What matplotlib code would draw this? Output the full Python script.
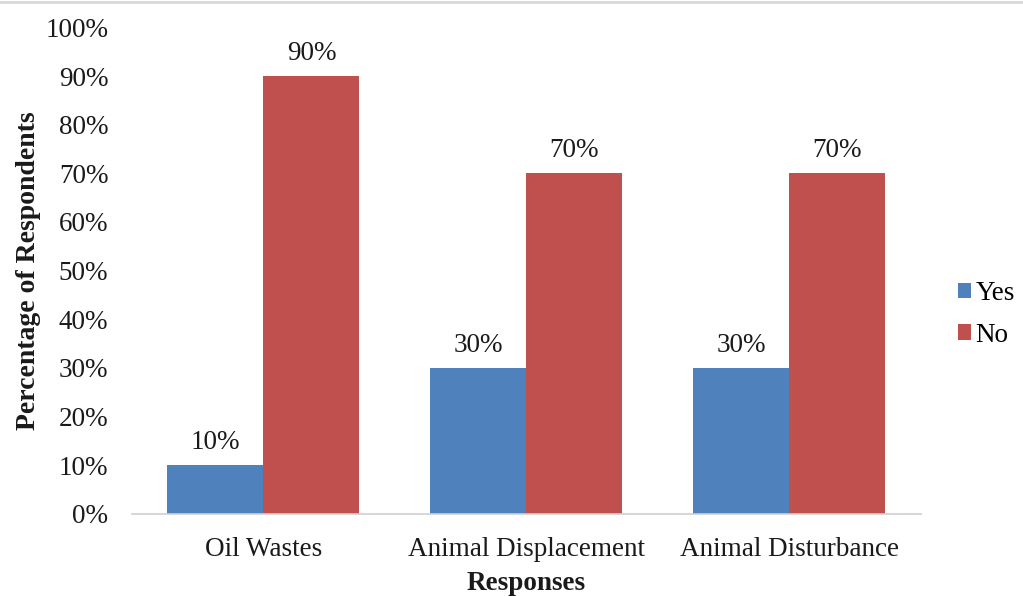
import numpy as np
import matplotlib
matplotlib.use("Agg")
import matplotlib.pyplot as plt
from matplotlib.lines import Line2D

# Survey responses (percent of respondents)
categories = ["Oil Wastes", "Animal Displacement", "Animal Disturbance"]
yes_values = [10, 30, 30]
no_values = [90, 70, 70]
y_ticks = [0, 10, 20, 30, 40, 50, 60, 70, 80, 90, 100]

plt.rcParams["font.family"] = ["Liberation Serif", "DejaVu Serif"]

BLUE = "#4F81BD"
RED = "#C0504D"
TEXT = "#1a1a1a"
FS = 19.5

fig = plt.figure(figsize=(10.23, 5.96), dpi=100)
ax = fig.add_axes([0.129, 0.138, 0.771, 0.816])

x = np.arange(len(categories))
width = 0.365
bars_yes = ax.bar(x - width / 2, yes_values, width, color=BLUE, label="Yes")
bars_no = ax.bar(x + width / 2, no_values, width, color=RED, label="No")

# value labels above each bar
for bars, vals in [(bars_yes, yes_values), (bars_no, no_values)]:
    for b, v in zip(bars, vals):
        ax.annotate(f"{v}%", (b.get_x() + b.get_width() / 2, v),
                    xytext=(0, 11.5), textcoords="offset points",
                    ha="center", va="baseline", fontsize=FS, color=TEXT)

ax.set_xlim(-0.5, 2.5)
ax.set_ylim(0, 100)
ax.set_yticks(y_ticks)
ax.set_yticklabels([f"{t}%" for t in y_ticks])
ax.set_xticks(x)
ax.set_xticklabels(categories)
ax.tick_params(axis="both", length=0, labelsize=FS, colors=TEXT)
ax.tick_params(axis="y", pad=17)
ax.tick_params(axis="x", pad=17)

for side in ["top", "right", "left"]:
    ax.spines[side].set_visible(False)
ax.spines["bottom"].set_color("#d0d0d0")
ax.spines["bottom"].set_linewidth(1.2)

ax.set_xlabel("Responses", fontsize=FS, fontweight="bold", labelpad=6, color=TEXT)
ax.set_ylabel("Percentage of Respondents", fontsize=20, fontweight="bold",
              labelpad=3, color=TEXT)

leg = ax.legend(loc="center left", bbox_to_anchor=(1.016, 0.41), frameon=False,
                fontsize=FS, handlelength=0.5, handleheight=0.5,
                handletextpad=0.15, labelspacing=0.62)

# thin grey rule along the top edge of the figure
fig.add_artist(Line2D([0, 1], [0.997, 0.997], transform=fig.transFigure,
                      color="#d8d8d8", linewidth=2))

fig.savefig("out.png", dpi=100)
